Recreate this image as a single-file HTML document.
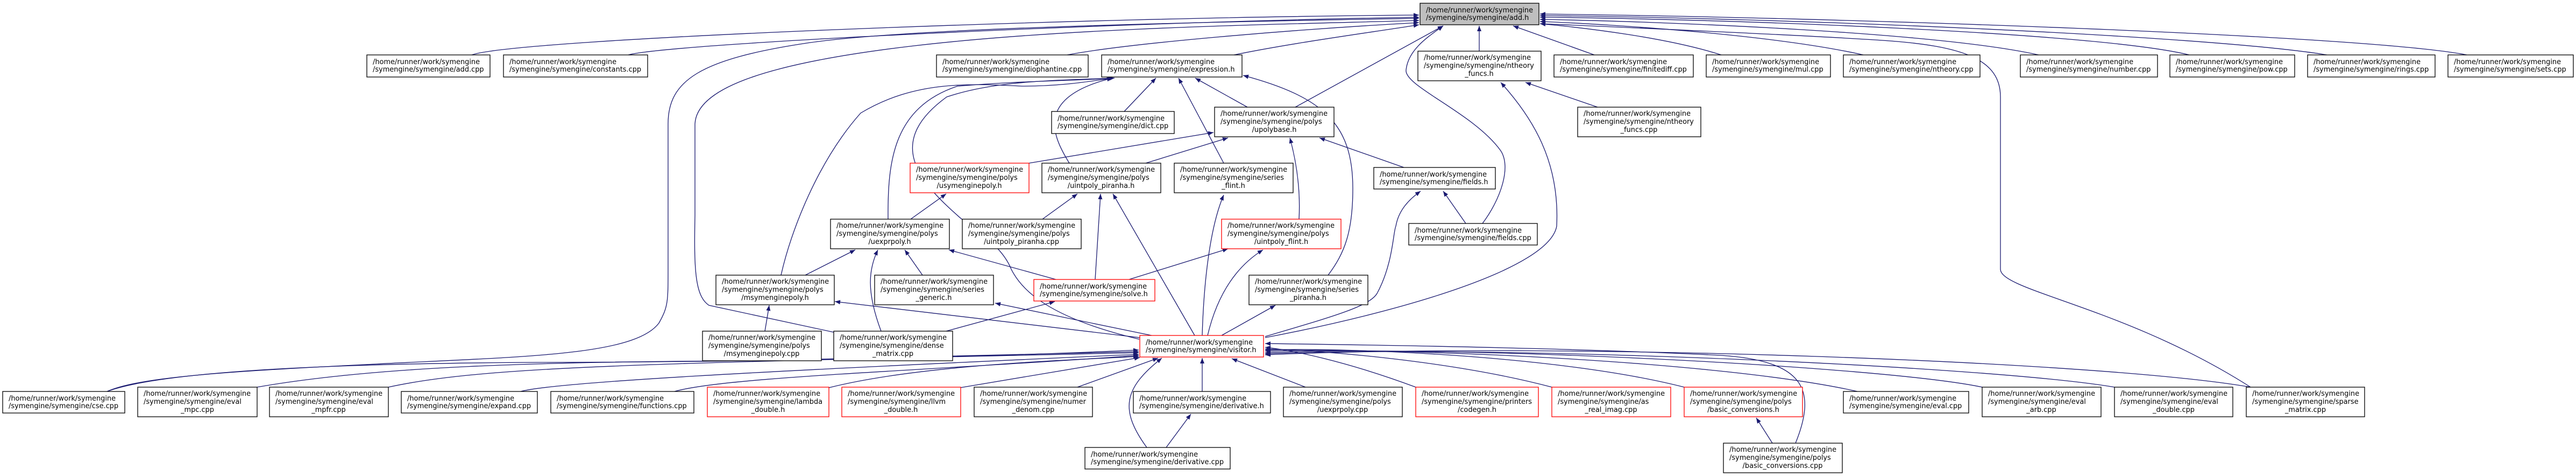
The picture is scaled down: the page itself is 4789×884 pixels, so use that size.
<!DOCTYPE html>
<html><head><meta charset="utf-8"><style>
html,body{margin:0;padding:0;background:#fff;}
svg{display:block;}
text{font-family:"DejaVu Sans","Liberation Sans",sans-serif;font-size:12.9px;fill:#000;}
.e{fill:none;stroke:#191970;stroke-width:1.3;marker-end:url(#a);}
.n{fill:#fff;stroke:#000;stroke-width:1.3;}
.r{fill:#fff;stroke:#ff0000;stroke-width:1.3;}
.s{fill:#666;}
</style></head><body>
<svg width="4789" height="884" viewBox="0 0 4789 884" xmlns="http://www.w3.org/2000/svg">
<defs><marker id="a" viewBox="0 0 10 8" refX="10" refY="4" markerWidth="11" markerHeight="8" markerUnits="userSpaceOnUse" orient="auto"><path d="M0,0 L10,4 L0,8 z" fill="#191970"/></marker></defs>

<!-- edges -->
<path class="e" d="M877,102 C960,72 2000,32 2638,28"/>
<path class="e" d="M1168,102 C1250,80 2100,40 2638,32"/>
<path class="e" d="M199,727 C260,700 420,690 700,676 S1180,660 1225,600 C1242,570 1242,560 1242,500 L1242,230 C1242,150 1300,110 1500,80 S2300,40 2638,34"/>
<path class="e" d="M1550,617 L1318,567 C1292,550 1290,500 1292,400 L1292,230 C1295,170 1400,120 1700,85 S2400,45 2638,38"/>
<path class="e" d="M1984,102 C2100,80 2400,55 2638,42"/>
<path class="e" d="M2294,102 C2400,80 2550,60 2638,46"/>
<path class="e" d="M2408,199 L2683,48"/>
<path class="e" d="M2750,95 L2750,48"/>
<path class="e" d="M2756,415 C2790,370 2810,310 2790,280 C2740,210 2610,160 2614,130 C2618,90 2660,65 2683,48"/>
<path class="e" d="M2964,102 L2813,48"/>
<path class="e" d="M3200,102 C3100,70 2950,52 2863,44"/>
<path class="e" d="M3464,102 C3300,65 3000,45 2863,40"/>
<path class="e" d="M3790,102 C3600,60 3100,40 2863,36"/>
<path class="e" d="M4070,102 C3900,60 3200,35 2863,32"/>
<path class="e" d="M4326,102 C4100,65 3300,33 2863,29"/>
<path class="e" d="M4586,102 C4400,65 3400,32 2863,26"/>
<path class="e" d="M4184,719 C3950,570 3719,540 3719,500 L3719,180 C3719,110 3650,85 3500,75 S3000,50 2863,44"/>

<path class="e" d="M2090,207 L2149,145"/>
<path class="e" d="M2275,303 L2191,145"/>
<path class="e" d="M2319,199 L2222,145"/>
<path class="e" d="M2469,511 C2500,470 2515,430 2515,350 C2515,230 2460,180 2311,140"/>
<path class="e" d="M1988,303 C1955,250 1925,180 2068,145"/>
<path class="e" d="M2118,630 C1950,590 1900,540 1880,500 C1860,450 1800,420 1780,400 C1700,330 1650,260 1760,180 C1850,150 1950,150 2070,145"/>
<path class="e" d="M1452,511 C1470,430 1520,300 1600,210 C1700,150 1800,155 1900,160 C1980,160 2030,150 2070,145"/>
<path class="e" d="M1651,407 C1650,300 1660,200 1780,160 C1900,150 2000,150 2072,145"/>

<path class="e" d="M1913,303 L2256,246"/>
<path class="e" d="M2130,303 L2283,256"/>
<path class="e" d="M2415,407 C2418,350 2410,300 2398,256"/>
<path class="e" d="M2610,311 L2453,256"/>
<path class="e" d="M1693,407 L1759,360"/>
<path class="e" d="M1938,407 L2003,360"/>
<path class="e" d="M2036,519 L2046,360"/>
<path class="e" d="M2221,623 L2069,360"/>
<path class="e" d="M2235,623 C2238,520 2250,420 2275,362"/>
<path class="e" d="M2725,415 L2683,355"/>
<path class="e" d="M2352,625 C2470,590 2545,570 2560,545 C2590,490 2590,430 2595,420 C2600,390 2620,370 2641,355"/>
<path class="e" d="M2352,627 C2600,580 2880,500 2894,420 C2900,300 2850,220 2790,153"/>
<path class="e" d="M2970,199 L2836,153"/>

<path class="e" d="M1497,511 L1590,464"/>
<path class="e" d="M1638,615 C1610,540 1615,500 1632,464"/>
<path class="e" d="M1715,511 L1682,464"/>
<path class="e" d="M1963,519 L1764,464"/>
<path class="e" d="M2099,519 L2283,462"/>
<path class="e" d="M2245,623 C2260,560 2290,500 2348,464"/>
<path class="e" d="M2271,623 L2371,567"/>
<path class="e" d="M1422,615 L1430,567"/>
<path class="e" d="M2119,627 L1552,560"/>
<path class="e" d="M2141,623 L1850,563"/>
<path class="e" d="M1759,615 L1961,560"/>

<path class="e" d="M199,727 C300,690 600,675 1000,673 C1500,672 1900,660 2117,650"/>
<path class="e" d="M478,719 C700,680 1000,672 1400,670 L2117,653"/>
<path class="e" d="M722,719 C900,680 1200,675 2117,655"/>
<path class="e" d="M968,727 C1030,710 1400,690 2117,658"/>
<path class="e" d="M1254,727 C1350,700 1700,690 2117,660"/>
<path class="e" d="M1541,720 C1700,680 1950,670 2117,662"/>
<path class="e" d="M1785,720 L2119,664"/>
<path class="e" d="M2003,719 L2153,665"/>
<path class="e" d="M2235,727 L2235,665"/>
<path class="e" d="M2132,831 C2080,760 2090,720 2160,665"/>
<path class="e" d="M2427,719 L2290,666"/>
<path class="e" d="M2632,719 C2500,670 2400,650 2352,645"/>
<path class="e" d="M2885,719 C2700,670 2450,650 2352,648"/>
<path class="e" d="M3131,719 C2900,660 2500,645 2352,650"/>
<path class="e" d="M3453,727 C3200,670 2600,645 2352,652"/>
<path class="e" d="M3685,719 C3500,680 2700,640 2352,655"/>
<path class="e" d="M3931,719 C3700,680 2800,640 2352,657"/>
<path class="e" d="M4184,719 C3900,670 2900,635 2352,659"/>
<path class="e" d="M3338,823 C3380,720 3350,670 3200,660 C2900,645 2500,640 2352,638"/>
<path class="e" d="M2168,831 L2214,769"/>
<path class="e" d="M3295,823 L3265,776"/>

<!-- nodes -->
<g>
<rect class="n" x="2640" y="6" width="221" height="40" style="fill:#bfbfbf"/><text x="2651" y="23">/home/runner/work/symengine</text><text x="2651" y="37">/symengine/symengine/add.h</text>

<rect class="n" x="682" y="102" width="229" height="41"/><text x="693" y="119">/home/runner/work/symengine</text><text x="693" y="133">/symengine/symengine/add.cpp</text>
<rect class="n" x="936" y="102" width="268" height="41"/><text x="947" y="119">/home/runner/work/symengine</text><text x="947" y="133">/symengine/symengine/constants.cpp</text>
<rect class="n" x="1741" y="102" width="282" height="41"/><text x="1752" y="119">/home/runner/work/symengine</text><text x="1752" y="133">/symengine/symengine/diophantine.cpp</text>
<rect class="n" x="2048" y="102" width="261" height="41"/><text x="2059" y="119">/home/runner/work/symengine</text><text x="2059" y="133">/symengine/symengine/expression.h</text>
<rect class="n" x="2636" y="95" width="229" height="55"/><text x="2647" y="111">/home/runner/work/symengine</text><text x="2647" y="126">/symengine/symengine/ntheory</text><text x="2750" y="141" text-anchor="middle">_funcs.h</text>
<rect class="n" x="2889" y="102" width="259" height="41"/><text x="2900" y="119">/home/runner/work/symengine</text><text x="2900" y="133">/symengine/symengine/finitediff.cpp</text>
<rect class="n" x="3172" y="102" width="231" height="41"/><text x="3183" y="119">/home/runner/work/symengine</text><text x="3183" y="133">/symengine/symengine/mul.cpp</text>
<rect class="n" x="3427" y="102" width="254" height="41"/><text x="3438" y="119">/home/runner/work/symengine</text><text x="3438" y="133">/symengine/symengine/ntheory.cpp</text>
<rect class="n" x="3756" y="102" width="255" height="41"/><text x="3767" y="119">/home/runner/work/symengine</text><text x="3767" y="133">/symengine/symengine/number.cpp</text>
<rect class="n" x="4034" y="102" width="232" height="41"/><text x="4045" y="119">/home/runner/work/symengine</text><text x="4045" y="133">/symengine/symengine/pow.cpp</text>
<rect class="n" x="4290" y="102" width="237" height="41"/><text x="4301" y="119">/home/runner/work/symengine</text><text x="4301" y="133">/symengine/symengine/rings.cpp</text>
<rect class="n" x="4551" y="102" width="233" height="41"/><text x="4562" y="119">/home/runner/work/symengine</text><text x="4562" y="133">/symengine/symengine/sets.cpp</text>

<rect class="n" x="1955" y="207" width="228" height="41"/><text x="1966" y="224">/home/runner/work/symengine</text><text x="1966" y="238">/symengine/symengine/dict.cpp</text>
<rect class="n" x="2258" y="199" width="222" height="55"/><text x="2269" y="215">/home/runner/work/symengine</text><text x="2269" y="230">/symengine/symengine/polys</text><text x="2369" y="245" text-anchor="middle">/upolybase.h</text>
<rect class="n" x="2933" y="199" width="229" height="55"/><text x="2944" y="215">/home/runner/work/symengine</text><text x="2944" y="230">/symengine/symengine/ntheory</text><text x="3047" y="245" text-anchor="middle">_funcs.cpp</text>

<rect class="r" x="1692" y="303" width="221" height="55"/><text x="1703" y="319">/home/runner/work/symengine</text><text x="1703" y="334">/symengine/symengine/polys</text><text x="1802" y="349" text-anchor="middle">/usymenginepoly.h</text>
<rect class="n" x="1937" y="303" width="221" height="55"/><text x="1948" y="319">/home/runner/work/symengine</text><text x="1948" y="334">/symengine/symengine/polys</text><text x="2047" y="349" text-anchor="middle">/uintpoly_piranha.h</text>
<rect class="n" x="2183" y="303" width="221" height="55"/><text x="2194" y="319">/home/runner/work/symengine</text><text x="2194" y="334">/symengine/symengine/series</text><text x="2293" y="349" text-anchor="middle">_flint.h</text>
<rect class="n" x="2554" y="311" width="226" height="40"/><text x="2565" y="328">/home/runner/work/symengine</text><text x="2565" y="342">/symengine/symengine/fields.h</text>

<rect class="n" x="1544" y="407" width="221" height="55"/><text x="1555" y="423">/home/runner/work/symengine</text><text x="1555" y="438">/symengine/symengine/polys</text><text x="1654" y="453" text-anchor="middle">/uexprpoly.h</text>
<rect class="n" x="1789" y="407" width="221" height="55"/><text x="1800" y="423">/home/runner/work/symengine</text><text x="1800" y="438">/symengine/symengine/polys</text><text x="1899" y="453" text-anchor="middle">/uintpoly_piranha.cpp</text>
<rect class="r" x="2271" y="407" width="222" height="55"/><text x="2282" y="423">/home/runner/work/symengine</text><text x="2282" y="438">/symengine/symengine/polys</text><text x="2382" y="453" text-anchor="middle">/uintpoly_flint.h</text>
<rect class="n" x="2619" y="415" width="239" height="40"/><text x="2630" y="432">/home/runner/work/symengine</text><text x="2630" y="446">/symengine/symengine/fields.cpp</text>

<rect class="n" x="1331" y="511" width="220" height="55"/><text x="1342" y="527">/home/runner/work/symengine</text><text x="1342" y="542">/symengine/symengine/polys</text><text x="1441" y="557" text-anchor="middle">/msymenginepoly.h</text>
<rect class="n" x="1626" y="511" width="221" height="55"/><text x="1637" y="527">/home/runner/work/symengine</text><text x="1637" y="542">/symengine/symengine/series</text><text x="1736" y="557" text-anchor="middle">_generic.h</text>
<rect class="r" x="1922" y="519" width="225" height="40"/><text x="1933" y="536">/home/runner/work/symengine</text><text x="1933" y="550">/symengine/symengine/solve.h</text>
<rect class="n" x="2322" y="511" width="221" height="55"/><text x="2333" y="527">/home/runner/work/symengine</text><text x="2333" y="542">/symengine/symengine/series</text><text x="2432" y="557" text-anchor="middle">_piranha.h</text>

<rect class="n" x="1306" y="615" width="221" height="55"/><text x="1317" y="631">/home/runner/work/symengine</text><text x="1317" y="646">/symengine/symengine/polys</text><text x="1416" y="661" text-anchor="middle">/msymenginepoly.cpp</text>
<rect class="n" x="1550" y="615" width="221" height="55"/><text x="1561" y="631">/home/runner/work/symengine</text><text x="1561" y="646">/symengine/symengine/dense</text><text x="1660" y="661" text-anchor="middle">_matrix.cpp</text>
<rect class="r" x="2119" y="623" width="230" height="40"/><text x="2130" y="640">/home/runner/work/symengine</text><text x="2130" y="654">/symengine/symengine/visitor.h</text>

<rect class="n" x="5" y="727" width="227" height="40"/><text x="16" y="744">/home/runner/work/symengine</text><text x="16" y="758">/symengine/symengine/cse.cpp</text>
<rect class="n" x="256" y="719" width="222" height="55"/><text x="267" y="735">/home/runner/work/symengine</text><text x="267" y="750">/symengine/symengine/eval</text><text x="367" y="765" text-anchor="middle">_mpc.cpp</text>
<rect class="n" x="501" y="719" width="221" height="55"/><text x="512" y="735">/home/runner/work/symengine</text><text x="512" y="750">/symengine/symengine/eval</text><text x="611" y="765" text-anchor="middle">_mpfr.cpp</text>
<rect class="n" x="746" y="727" width="253" height="40"/><text x="757" y="744">/home/runner/work/symengine</text><text x="757" y="758">/symengine/symengine/expand.cpp</text>
<rect class="n" x="1024" y="727" width="266" height="40"/><text x="1035" y="744">/home/runner/work/symengine</text><text x="1035" y="758">/symengine/symengine/functions.cpp</text>
<rect class="r" x="1315" y="719" width="226" height="55"/><text x="1326" y="735">/home/runner/work/symengine</text><text x="1326" y="750">/symengine/symengine/lambda</text><text x="1428" y="765" text-anchor="middle">_double.h</text>
<rect class="r" x="1565" y="719" width="221" height="55"/><text x="1576" y="735">/home/runner/work/symengine</text><text x="1576" y="750">/symengine/symengine/llvm</text><text x="1675" y="765" text-anchor="middle">_double.h</text>
<rect class="n" x="1811" y="719" width="220" height="55"/><text x="1822" y="735">/home/runner/work/symengine</text><text x="1822" y="750">/symengine/symengine/numer</text><text x="1921" y="765" text-anchor="middle">_denom.cpp</text>
<rect class="n" x="2107" y="727" width="255" height="40"/><text x="2118" y="744">/home/runner/work/symengine</text><text x="2118" y="758">/symengine/symengine/derivative.h</text>
<rect class="n" x="2386" y="719" width="221" height="55"/><text x="2397" y="735">/home/runner/work/symengine</text><text x="2397" y="750">/symengine/symengine/polys</text><text x="2496" y="765" text-anchor="middle">/uexprpoly.cpp</text>
<rect class="r" x="2632" y="719" width="228" height="55"/><text x="2643" y="735">/home/runner/work/symengine</text><text x="2643" y="750">/symengine/symengine/printers</text><text x="2746" y="765" text-anchor="middle">/codegen.h</text>
<rect class="r" x="2885" y="719" width="221" height="55"/><text x="2896" y="735">/home/runner/work/symengine</text><text x="2896" y="750">/symengine/symengine/as</text><text x="2995" y="765" text-anchor="middle">_real_imag.cpp</text>
<rect class="r" x="3131" y="719" width="220" height="55"/><text x="3142" y="735">/home/runner/work/symengine</text><text x="3142" y="750">/symengine/symengine/polys</text><text x="3241" y="765" text-anchor="middle">/basic_conversions.h</text>
<rect class="n" x="3427" y="727" width="233" height="40"/><text x="3438" y="744">/home/runner/work/symengine</text><text x="3438" y="758">/symengine/symengine/eval.cpp</text>
<rect class="n" x="3685" y="719" width="221" height="55"/><text x="3696" y="735">/home/runner/work/symengine</text><text x="3696" y="750">/symengine/symengine/eval</text><text x="3795" y="765" text-anchor="middle">_arb.cpp</text>
<rect class="n" x="3931" y="719" width="220" height="55"/><text x="3942" y="735">/home/runner/work/symengine</text><text x="3942" y="750">/symengine/symengine/eval</text><text x="4041" y="765" text-anchor="middle">_double.cpp</text>
<rect class="n" x="4176" y="719" width="220" height="55"/><text x="4187" y="735">/home/runner/work/symengine</text><text x="4187" y="750">/symengine/symengine/sparse</text><text x="4286" y="765" text-anchor="middle">_matrix.cpp</text>

<rect class="n" x="2017" y="831" width="270" height="40"/><text x="2028" y="848">/home/runner/work/symengine</text><text x="2028" y="862">/symengine/symengine/derivative.cpp</text>
<rect class="n" x="3204" y="823" width="221" height="55"/><text x="3215" y="839">/home/runner/work/symengine</text><text x="3215" y="854">/symengine/symengine/polys</text><text x="3314" y="869" text-anchor="middle">/basic_conversions.cpp</text>
</g>
</svg>
</body></html>
